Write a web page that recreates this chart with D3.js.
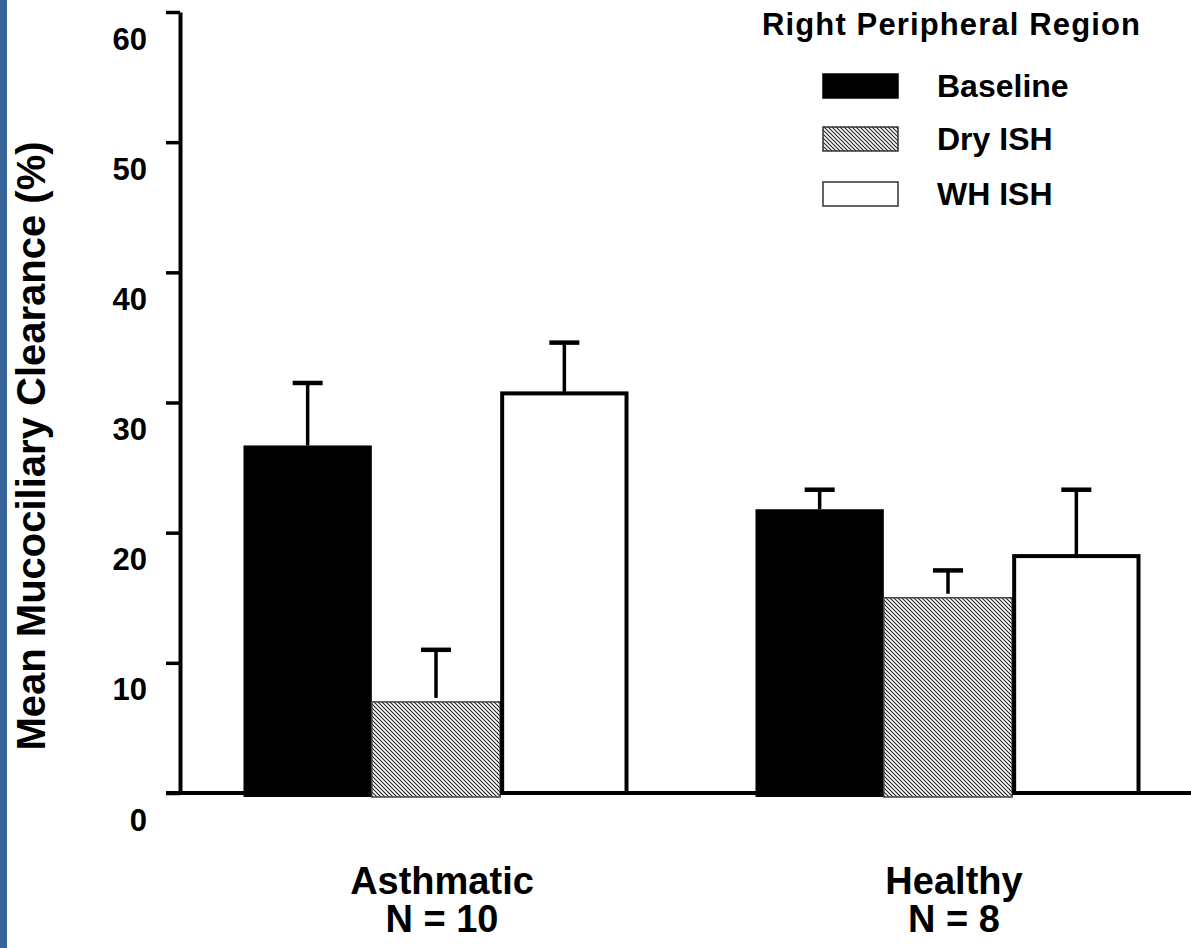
<!doctype html>
<html>
    <head>
        <meta charset="utf-8">
        <script src="https://cdn.jsdelivr.net/npm/d3@7"></script>
        <style>
            html, body {
                margin: 0;
                padding: 0;
                background: #fff;
            }
            #viz {
                position: absolute;
                top: 0px;
                left: 0px;
                width: 1191px;
                height: 948px;
            }
            text {
                font-family: Arial, "Liberation Sans", sans-serif;
                font-weight: bold;
                fill: #000;
            }
        </style>
    </head>
    <body>
        <div id="viz"></div>
        <script>
            // groups along the x axis
            var groups = ["Asthmatic", "Healthy"];
            var groupN = ["N = 10", "N = 8"];

            // treatment series
            var series = ["Baseline", "Dry ISH", "WH ISH"];

            // mean clearance (%) per group, in series order
            var asthmaticMeans = [26.7, 7.0, 30.7];
            var healthyMeans = [21.8, 15.0, 18.2];

            // error bar (upper only) per group, in series order
            var asthmaticErr = [4.8, 4.0, 3.9];
            var healthyErr = [1.5, 2.1, 5.1];

            var yTicks = [0, 10, 20, 30, 40, 50, 60];

            var yTitle = "Mean Mucociliary Clearance (%)";
            var legendTitle = "Right Peripheral Region";

            var means = [asthmaticMeans, healthyMeans];
            var errs = [asthmaticErr, healthyErr];

            var w = 1191;
            var h = 948;

            var svg = d3.select("#viz").append("svg")
                .attr("width", w)
                .attr("height", h);

            // pattern for the dry ISH bars
            var defs = svg.append("defs");
            var pat = defs.append("pattern")
                .attr("id", "hatch")
                .attr("patternUnits", "userSpaceOnUse")
                .attr("width", 4)
                .attr("height", 4);
            pat.append("rect")
                .attr("width", 4)
                .attr("height", 4)
                .attr("fill", "#fff");
            pat.append("path")
                .attr("d", "M0,0 L4,4 M-1,3 L1,5 M3,-1 L5,1")
                .attr("stroke", "#222")
                .attr("stroke-width", 1.1);

            // blue strip at the left edge
            svg.append("rect")
                .attr("x", 0)
                .attr("y", 0)
                .attr("width", 7)
                .attr("height", h)
                .attr("fill", "#36649a");

            var y = d3.scaleLinear()
                .domain([0, 60])
                .range([793, 12]);

            var x = d3.scaleBand()
                .domain(groups)
                .range([180, 1204])
                .paddingInner(0.248)
                .paddingOuter(0.124);

            var xs = d3.scaleBand()
                .domain(series)
                .range([0, x.bandwidth()])
                .padding(0);

            // x axis line
            svg.append("line")
                .attr("x1", 166)
                .attr("x2", w)
                .attr("y1", y(0))
                .attr("y2", y(0))
                .attr("stroke", "#000")
                .attr("stroke-width", 4);

            // y axis
            var yAxis = d3.axisLeft(y)
                .tickValues(yTicks)
                .tickSize(14)
                .tickSizeOuter(0)
                .tickPadding(19);

            var gy = svg.append("g")
                .attr("transform", "translate(180,0)")
                .call(yAxis);
            gy.select(".domain")
                .attr("stroke", "#000")
                .attr("stroke-width", 4);
            gy.selectAll(".tick line")
                .attr("stroke", "#000")
                .attr("stroke-width", 3.5);
            gy.selectAll(".tick text")
                .attr("dy", 37)
                .style("font-size", "31px")
                .style("font-family", "Arial, 'Liberation Sans', sans-serif")
                .style("font-weight", "bold")
                .attr("fill", "#000");

            svg.append("text")
                .attr("transform", "translate(45," + 446 + ") rotate(-90)")
                .attr("text-anchor", "middle")
                .style("font-size", "40px")
                .text(yTitle);

            // bars
            var rows = [];
            groups.forEach(function (g, gi) {
                series.forEach(function (s, si) {
                    rows.push({ group: g, series: s, si: si, v: means[gi][si], e: errs[gi][si] });
                });
            });

            var bars = svg.selectAll("g.bar")
                .data(rows)
                .enter()
                .append("g")
                    .attr("class", "bar");

            bars.append("rect")
                .attr("x", function (d) {
                    var x0 = x(d.group) + xs(d.series);
                    return d.si === 2 ? x0 + 2 : x0;
                })
                .attr("y", function (d) {
                    return y(d.v);
                })
                .attr("width", function (d) {
                    return d.si === 2 ? xs.bandwidth() - 4 : xs.bandwidth();
                })
                .attr("height", function (d) {
                    return y(0) - y(d.v) + (d.si === 2 ? 0 : 4);
                })
                .attr("fill", function (d) {
                    return d.si === 0 ? "#000" : (d.si === 1 ? "url(#hatch)" : "#fff");
                })
                .attr("stroke", function (d) {
                    return d.si === 0 ? "none" : (d.si === 1 ? "#444" : "#000");
                })
                .attr("stroke-width", function (d) {
                    return d.si === 2 ? 4 : 1.5;
                });

            // error bars
            bars.append("line")
                .attr("x1", function (d) {
                    return x(d.group) + xs(d.series) + xs.bandwidth() / 2;
                })
                .attr("x2", function (d) {
                    return x(d.group) + xs(d.series) + xs.bandwidth() / 2;
                })
                .attr("y1", function (d) {
                    return y(d.v + d.e);
                })
                .attr("y2", function (d) {
                    return y(d.v) - (d.si === 1 ? 4 : 0);
                })
                .attr("stroke", "#000")
                .attr("stroke-width", 3.5);

            bars.append("line")
                .attr("x1", function (d) {
                    return x(d.group) + xs(d.series) + xs.bandwidth() / 2 - 15;
                })
                .attr("x2", function (d) {
                    return x(d.group) + xs(d.series) + xs.bandwidth() / 2 + 15;
                })
                .attr("y1", function (d) {
                    return y(d.v + d.e);
                })
                .attr("y2", function (d) {
                    return y(d.v + d.e);
                })
                .attr("stroke", "#000")
                .attr("stroke-width", 4.5);

            // group labels
            groups.forEach(function (g, gi) {
                var cx = x(g) + x.bandwidth() / 2 + 6;
                svg.append("text")
                    .attr("x", cx)
                    .attr("y", 894)
                    .attr("text-anchor", "middle")
                    .style("font-size", "38px")
                    .text(g);
                svg.append("text")
                    .attr("x", cx)
                    .attr("y", 932)
                    .attr("text-anchor", "middle")
                    .style("font-size", "38px")
                    .text(groupN[gi]);
            });

            // legend
            svg.append("text")
                .attr("x", 762)
                .attr("y", 35)
                .attr("textLength", 378)
                .attr("lengthAdjust", "spacing")
                .style("font-size", "31px")
                .text(legendTitle);

            var legY = [74, 127, 182];
            var leg = svg.selectAll("g.leg")
                .data(series)
                .enter()
                .append("g")
                    .attr("class", "leg")
                    .attr("transform", function (d, i) {
                        return "translate(0," + legY[i] + ")";
                    });

            leg.append("rect")
                .attr("x", 823)
                .attr("y", 0)
                .attr("width", 75)
                .attr("height", 24)
                .attr("fill", function (d, i) {
                    return i === 0 ? "#000" : (i === 1 ? "url(#hatch)" : "#fff");
                })
                .attr("stroke", function (d, i) {
                    return i === 0 ? "#000" : "#333";
                })
                .attr("stroke-width", 1.5);

            leg.append("text")
                .attr("x", 937)
                .attr("y", 23)
                .style("font-size", "32px")
                .text(function (d) {
                    return d;
                });
        </script>
    </body>
</html>
